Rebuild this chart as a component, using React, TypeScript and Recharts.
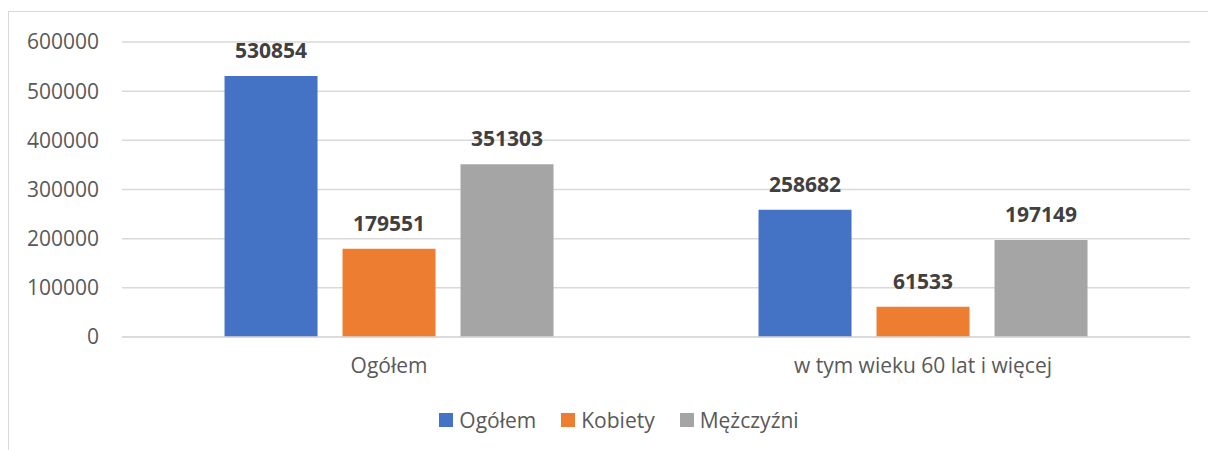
import React from 'react';
import { BarChart, Bar, XAxis, YAxis, CartesianGrid, Legend, LabelList } from 'recharts';

/* ── Data ─────────────────────────────────────────── */
const CATEGORIES = ['Ogółem', 'w tym wieku 60 lat i więcej'];
const OGOLEM = [530854, 258682];
const KOBIETY = [179551, 61533];
const MEZCZYZNI = [351303, 197149];
const Y_TICKS = [0, 100000, 200000, 300000, 400000, 500000, 600000];

const SERIES = [
    { key: 'ogolem', name: 'Ogółem', values: OGOLEM, color: '#4472C4' },
    { key: 'kobiety', name: 'Kobiety', values: KOBIETY, color: '#ED7D31' },
    { key: 'mezczyzni', name: 'Mężczyźni', values: MEZCZYZNI, color: '#A5A5A5' },
];

const data = CATEGORIES.map((name, i) => {
    const row: Record<string, string | number> = { name };
    SERIES.forEach((s) => { row[s.key] = s.values[i]; });
    return row;
});

const FONT = '"Open Sans", "Segoe UI", sans-serif';
const TEXT = '#595959';
const GRID = '#D9D9D9';

const LegendContent = () => (
    <div style={{ display: 'flex', justifyContent: 'center', gap: 25, paddingLeft: 48, paddingTop: 3, fontFamily: FONT, fontSize: 21, color: TEXT, lineHeight: '28px' }}>
        {SERIES.map((s) => (
            <span key={s.key} style={{ display: 'flex', alignItems: 'center', gap: 6 }}>
                <span style={{ width: 14, height: 14, background: s.color, display: 'inline-block' }} />
                {s.name}
            </span>
        ))}
    </div>
);

export default function App() {
    return (
        <div style={{ position: 'relative', width: 1208, height: 450, overflow: 'hidden', background: '#fff' }}>
            <style>{'body { margin: 0; }'}</style>
            {/* chart frame, cut off at the right and bottom */}
            <div style={{ position: 'absolute', left: 8, top: 11, width: 1220, height: 1, background: GRID }} />
            <div style={{ position: 'absolute', left: 8, top: 11, width: 1, height: 460, background: GRID }} />
            <div style={{ position: 'absolute', left: 0, top: 0 }}>
                <BarChart
                    width={1208}
                    height={450}
                    data={data}
                    margin={{ top: 42, right: 18, bottom: 0, left: 0 }}
                    barCategoryGap="19.2%"
                    barGap={25}
                >
                    <CartesianGrid vertical={false} stroke={GRID} strokeWidth={1.5} />
                    <XAxis
                        dataKey="name"
                        height={66}
                        tickLine={false}
                        tickSize={0}
                        tickMargin={21}
                        axisLine={{ stroke: GRID, strokeWidth: 1.5 }}
                        tick={{ fontSize: 21, fill: TEXT, fontFamily: FONT }}
                    />
                    <YAxis
                        width={122}
                        domain={[0, 600000]}
                        ticks={Y_TICKS}
                        tickLine={false}
                        axisLine={false}
                        tickSize={0}
                        tickMargin={23}
                        tick={{ fontSize: 21, fill: TEXT, fontFamily: FONT }}
                    />
                    <Legend
                        verticalAlign="bottom"
                        height={47}
                        content={<LegendContent />}
                    />
                    {SERIES.map((s) => (
                        <Bar key={s.key} dataKey={s.key} name={s.name} fill={s.color} isAnimationActive={false}>
                            <LabelList
                                dataKey={s.key}
                                position="top"
                                offset={18}
                                style={{ fontSize: 21, fontWeight: 700, fill: '#404040', fontFamily: FONT }}
                            />
                        </Bar>
                    ))}
                </BarChart>
            </div>
        </div>
    );
}
